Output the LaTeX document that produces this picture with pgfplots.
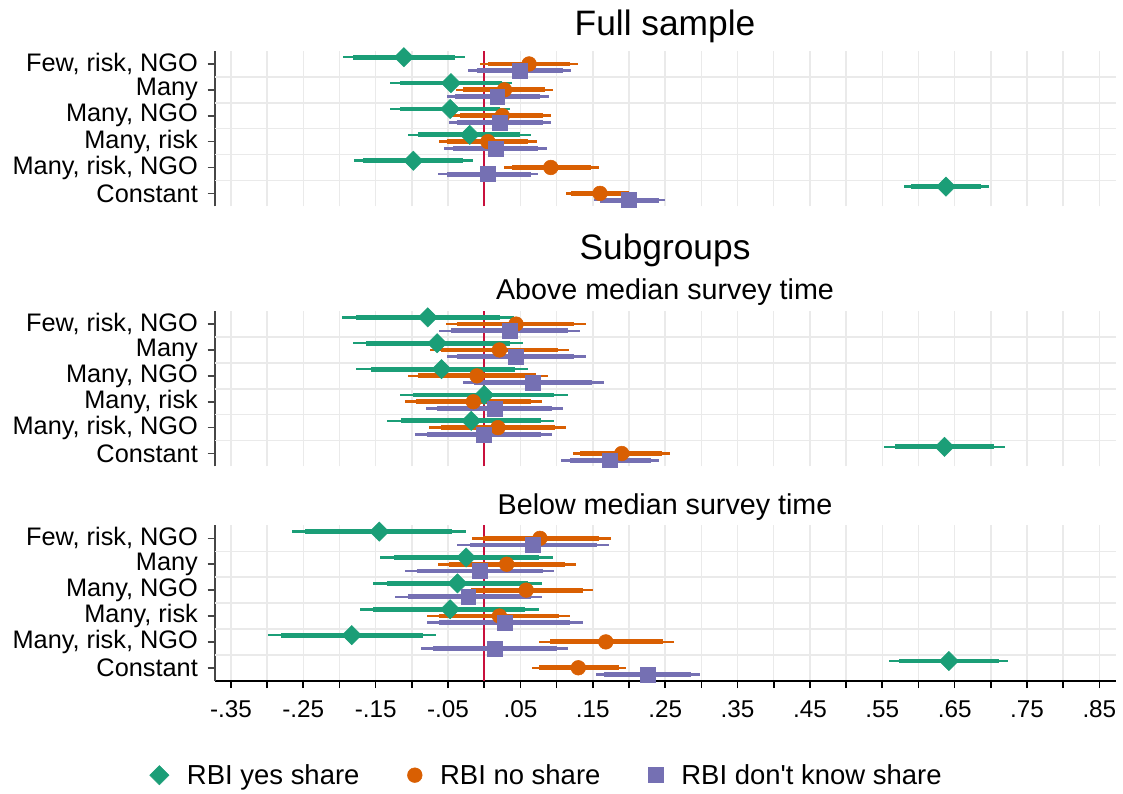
\documentclass[border=0pt]{standalone}
\usepackage{fontspec}
\setmainfont{Liberation Sans}[Ligatures=TeXOff]
\usepackage{pgfplots}
\usepackage{pgfplotstable}
\pgfplotsset{compat=1.18}

\definecolor{cg}{RGB}{27,158,119}
\definecolor{co}{RGB}{217,95,2}
\definecolor{cp}{RGB}{117,112,179}
\definecolor{cr}{RGB}{200,16,60}
\definecolor{gridc}{RGB}{234,234,234}
\definecolor{axc}{RGB}{70,70,70}

% columns: y (6 = top row) est lo95 hi95 lo90 hi90
\pgfplotstableread{
y est lo95 hi95 lo90 hi90
6 -0.111 -0.195 -0.026 -0.181 -0.040
5 -0.046 -0.130 0.038 -0.116 0.024
4 -0.047 -0.130 0.036 -0.116 0.022
3 -0.020 -0.105 0.064 -0.091 0.050
2 -0.098 -0.180 -0.016 -0.167 -0.029
1 0.638 0.580 0.697 0.590 0.686
}\AG
\pgfplotstableread{
y est lo95 hi95 lo90 hi90
6 0.062 -0.006 0.130 0.005 0.119
5 0.028 -0.039 0.095 -0.029 0.084
4 0.025 -0.045 0.092 -0.033 0.081
3 0.005 -0.063 0.073 -0.052 0.061
2 0.092 0.027 0.159 0.038 0.147
1 0.160 0.113 0.207 0.120 0.200
}\AO
\pgfplotstableread{
y est lo95 hi95 lo90 hi90
6 0.049 -0.022 0.120 -0.010 0.109
5 0.018 -0.052 0.089 -0.040 0.077
4 0.022 -0.048 0.092 -0.037 0.081
3 0.016 -0.055 0.087 -0.043 0.075
2 0.005 -0.064 0.074 -0.052 0.064
1 0.200 0.152 0.250 0.160 0.242
}\AP
\pgfplotstableread{
y est lo95 hi95 lo90 hi90
6 -0.078 -0.196 0.041 -0.177 0.022
5 -0.065 -0.182 0.053 -0.163 0.035
4 -0.059 -0.177 0.061 -0.157 0.043
3 0.000 -0.116 0.116 -0.098 0.097
2 -0.018 -0.134 0.097 -0.115 0.079
1 0.636 0.552 0.719 0.567 0.705
}\BG
\pgfplotstableread{
y est lo95 hi95 lo90 hi90
6 0.044 -0.053 0.140 -0.038 0.124
5 0.021 -0.075 0.117 -0.060 0.102
4 -0.010 -0.106 0.088 -0.091 0.072
3 -0.015 -0.109 0.080 -0.094 0.065
2 0.019 -0.076 0.113 -0.060 0.098
1 0.190 0.122 0.257 0.133 0.245
}\BO
\pgfplotstableread{
y est lo95 hi95 lo90 hi90
6 0.035 -0.062 0.132 -0.046 0.116
5 0.044 -0.052 0.140 -0.037 0.124
4 0.067 -0.029 0.165 -0.014 0.149
3 0.014 -0.080 0.109 -0.065 0.094
2 0.000 -0.095 0.094 -0.079 0.078
1 0.174 0.106 0.242 0.118 0.230
}\BP
\pgfplotstableread{
y est lo95 hi95 lo90 hi90
6 -0.145 -0.266 -0.025 -0.247 -0.045
5 -0.025 -0.144 0.095 -0.124 0.076
4 -0.037 -0.153 0.080 -0.134 0.061
3 -0.047 -0.172 0.076 -0.153 0.057
2 -0.183 -0.299 -0.066 -0.281 -0.085
1 0.642 0.559 0.724 0.573 0.711
}\CG
\pgfplotstableread{
y est lo95 hi95 lo90 hi90
6 0.077 -0.017 0.175 -0.002 0.158
5 0.031 -0.064 0.127 -0.049 0.111
4 0.058 -0.031 0.151 -0.018 0.136
3 0.021 -0.079 0.119 -0.063 0.104
2 0.168 0.076 0.262 0.091 0.247
1 0.130 0.066 0.196 0.076 0.186
}\CO
\pgfplotstableread{
y est lo95 hi95 lo90 hi90
6 0.067 -0.037 0.172 -0.020 0.156
5 -0.006 -0.110 0.097 -0.093 0.081
4 -0.022 -0.123 0.080 -0.106 0.064
3 0.028 -0.079 0.136 -0.062 0.119
2 0.014 -0.087 0.116 -0.071 0.100
1 0.226 0.154 0.298 0.166 0.286
}\CP

\pgfplotsset{
  mg/.style={mark=square*, mark size=5.1pt, mark options={rotate=45}},
  mo/.style={mark=*, mark size=5.5pt},
  mp/.style={mark=square*, mark size=5.6pt},
  panel/.style={
    anchor=north west, scale only axis, width=675.75pt, height=116.5pt,
    xmin=-0.372, xmax=0.873, ymin=0.5, ymax=6.5,
    xtick={-0.35,-0.3,-0.25,-0.2,-0.15,-0.1,-0.05,0,0.05,0.1,0.15,0.2,0.25,0.3,0.35,0.4,0.45,0.5,0.55,0.6,0.65,0.7,0.75,0.8,0.85},
    xmajorgrids=true,
    major grid style={draw=gridc, line width=1.1pt},
    ytick={1,2,3,4,5,6},
    yticklabels={Constant,{Many, risk, NGO},{Many, risk},{Many, NGO},Many,{Few, risk, NGO}},
    extra y ticks={1.5,2.5,3.5,4.5,5.5},
    extra y tick labels={},
    extra y tick style={grid=major, major tick length=0pt},
    axis x line*=bottom, axis y line*=left,
    y axis line style={draw=axc, line width=1.5pt},
    tick align=outside, major tick length=5.5pt,
    ytick style={draw=axc, line width=1.2pt},
    yticklabel style={font=\fontsize{19}{22}\selectfont, xshift=-3.8pt},
    xticklabel style={font=\fontsize{18.2}{21}\selectfont, yshift=-6pt},
    clip=false,
  },
  hidex/.style={x axis line style={draw=none}, xtick style={draw=none}, xticklabels={}},
}

\newcommand{\drawseries}[4]{%
\addplot[only marks, mark=none, forget plot, error bars/.cd, x dir=both, x explicit, error mark=none,
  error bar style={line width=1.9pt, color=#2}]
  table[x=est, y expr=\thisrow{y}+(#3), x error minus expr=\thisrow{est}-\thisrow{lo95}, x error plus expr=\thisrow{hi95}-\thisrow{est}] {#1};
\addplot[only marks, mark=none, forget plot, error bars/.cd, x dir=both, x explicit, error mark=none,
  error bar style={line width=3.6pt, color=#2}]
  table[x=est, y expr=\thisrow{y}+(#3), x error minus expr=\thisrow{est}-\thisrow{lo90}, x error plus expr=\thisrow{hi90}-\thisrow{est}] {#1};
\addplot[only marks, color=#2, #4] table[x=est, y expr=\thisrow{y}+(#3)] {#1};
}

\newcommand{\zeroline}{\addplot[cr, line width=1.5pt, forget plot] coordinates {(0,0.5) (0,6.5)};}

\begin{document}
\begin{tikzpicture}
\useasboundingbox (0,0) rectangle (842.25pt,594.75pt);

\node[anchor=base, font=\fontsize{26.5}{30}\selectfont] at (498.75pt,568pt) {Full sample};
\node[anchor=base, font=\fontsize{26.5}{30}\selectfont] at (498.75pt,400pt) {Subgroups};
\node[anchor=base, font=\fontsize{21.5}{25}\selectfont] at (498.75pt,370pt) {Above median survey time};
\node[anchor=base, font=\fontsize{21.5}{25}\selectfont] at (498.75pt,209.25pt) {Below median survey time};

\begin{axis}[panel, hidex, at={(161.25pt,556.5pt)}]
\zeroline
\drawseries{\AG}{cg}{0.26}{mg}
\drawseries{\AO}{co}{0}{mo}
\drawseries{\AP}{cp}{-0.26}{mp}
\end{axis}

\begin{axis}[panel, hidex, at={(161.25pt,361.4pt)}]
\zeroline
\drawseries{\BG}{cg}{0.26}{mg}
\drawseries{\BO}{co}{0}{mo}
\drawseries{\BP}{cp}{-0.26}{mp}
\end{axis}

\begin{axis}[panel, at={(161.25pt,200.7pt)},
  x axis line style={draw=black, line width=1.3pt},
  xtick style={draw=black, line width=1.2pt},
  xticklabels={-.35,,-.25,,-.15,,-.05,,.05,,.15,,.25,,.35,,.45,,.55,,.65,,.75,,.85},
  legend style={at={(0.3685,-0.608)}, anchor=center, draw=none, fill=none,
    font=\fontsize{20.6}{24}\selectfont, legend columns=3,
    /tikz/every odd column/.append style={column sep=11.5pt},
    /tikz/every even column/.append style={column sep=34pt}},
  legend cell align=left]
\zeroline
\drawseries{\CG}{cg}{0.26}{mg}
\drawseries{\CO}{co}{0}{mo}
\drawseries{\CP}{cp}{-0.26}{mp}
\legend{RBI yes share, RBI no share, RBI don't know share}
\end{axis}
\end{tikzpicture}
\end{document}
